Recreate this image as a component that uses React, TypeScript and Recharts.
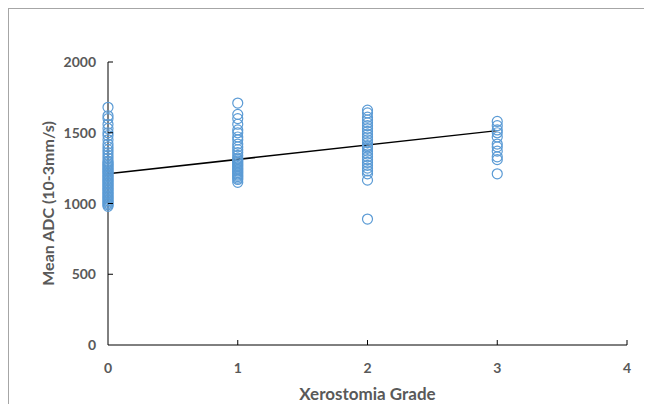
import { ScatterChart, Scatter, XAxis, YAxis, ReferenceLine, Label } from 'recharts';

const grade0 = [
  1680, 1620, 1600, 1560, 1530, 1500, 1480, 1450, 1420, 1400, 1380, 1360, 1340, 1320, 1300, 1290,
  1280, 1270, 1260, 1250, 1240, 1230, 1220, 1210, 1200, 1190, 1180, 1170, 1160, 1150, 1140, 1130,
  1120, 1110, 1100, 1090, 1080, 1070, 1060, 1050, 1040, 1030, 1020, 1010, 1000, 990, 980,
];
const grade1 = [
  1710, 1630, 1600, 1560, 1520, 1500, 1470, 1450, 1420, 1400, 1380, 1360, 1340, 1320, 1310, 1300,
  1290, 1280, 1270, 1260, 1250, 1240, 1230, 1220, 1210, 1200, 1190, 1180, 1170, 1150,
];
const grade2 = [
  1660, 1640, 1610, 1590, 1570, 1550, 1530, 1510, 1490, 1470, 1450, 1430, 1410, 1400, 1390, 1370,
  1350, 1330, 1310, 1290, 1270, 1250, 1230, 1210, 1165, 890,
];
const grade3 = [1580, 1550, 1520, 1500, 1470, 1420, 1400, 1370, 1330, 1310, 1210];

const xTicks = [0, 1, 2, 3, 4];
const yTicks = [0, 500, 1000, 1500, 2000];
const trend = [
  { x: 0, y: 1210 },
  { x: 3, y: 1515 },
];

const points = [grade0, grade1, grade2, grade3].flatMap((vals, g) => vals.map((v) => ({ x: g, y: v })));

const FONT = 'Lato, "Open Sans", sans-serif';
const TEXT = '#595959';

// ticks in this chart point inward, so they are drawn with the labels
const XTick = (props: any) => {
  const { x, y, payload } = props;
  return (
    <g>
      {payload.value !== 0 && <line x1={x} x2={x} y1={y} y2={y - 5} stroke="#000" strokeWidth={1} />}
      <text x={x} y={y + 28} textAnchor="middle" fontFamily={FONT} fontSize={14} fontWeight={700} fill={TEXT}>
        {payload.value}
      </text>
    </g>
  );
};

const YTick = (props: any) => {
  const { x, y, payload } = props;
  const ax = x + 12;
  return (
    <g>
      {payload.value !== 0 && <line x1={ax} x2={ax + 5} y1={y} y2={y} stroke="#000" strokeWidth={1} />}
      <text x={x} y={y} dy={5} textAnchor="end" fontFamily={FONT} fontSize={14} fontWeight={700} fill={TEXT}>
        {payload.value}
      </text>
    </g>
  );
};

export default function App() {
  return (
    <div style={{ width: 644, height: 396, borderTop: '1px solid #a6a6a6', borderLeft: '1px solid #a6a6a6', background: '#fff' }}>
      <ScatterChart width={644} height={396} margin={{ top: 53, right: 26, left: 0, bottom: 0 }}>
        <XAxis
          type="number" dataKey="x" domain={[0, 4]} ticks={xTicks} height={60}
          axisLine={{ stroke: '#000', strokeWidth: 1 }} tickLine={false} tickSize={0} tickMargin={0}
          tick={<XTick />}
        >
          <Label
            content={({ viewBox }: any) => (
              <text x={viewBox.x + viewBox.width / 2} y={viewBox.y + 55} textAnchor="middle"
                fontFamily={FONT} fontSize={17} fontWeight={700} fill={TEXT}>
                Xerostomia Grade
              </text>
            )}
          />
        </XAxis>
        <YAxis
          type="number" dataKey="y" domain={[0, 2000]} ticks={yTicks} width={99}
          axisLine={{ stroke: '#000', strokeWidth: 1 }} tickLine={false} tickSize={0} tickMargin={12}
          tick={<YTick />}
        >
          <Label
            content={({ viewBox }: any) => {
              const cx = 41;
              const cy = viewBox.y + viewBox.height / 2;
              return (
                <text x={cx} y={cy} transform={`rotate(-90 ${cx} ${cy})`} textAnchor="middle" dominantBaseline="middle"
                  fontFamily={FONT} fontSize={16} fontWeight={700} fill={TEXT}>
                  Mean ADC (10-3mm/s)
                </text>
              );
            }}
          />
        </YAxis>
        <Scatter
          data={points} isAnimationActive={false}
          shape={(p: any) => <circle cx={p.cx} cy={p.cy} r={5} fill="none" stroke="#5B9BD5" strokeWidth={1.2} />}
        />
        <ReferenceLine segment={trend} stroke="#000" strokeWidth={1.5} ifOverflow="visible" />
      </ScatterChart>
    </div>
  );
}
